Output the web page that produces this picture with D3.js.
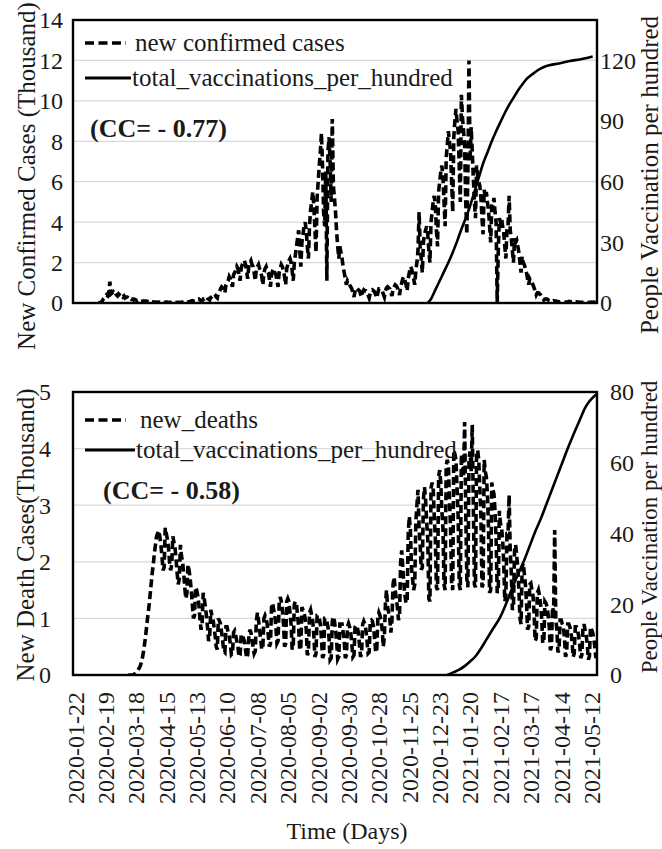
<!DOCTYPE html>
<html>
<head>
<meta charset="utf-8">
<script src="https://cdn.jsdelivr.net/npm/d3@7/dist/d3.min.js"></script>
<style>
  html, body { margin: 0; padding: 0; background: #fff; }
  svg { display: block; }
  text { font-family: "Liberation Serif", "Times New Roman", Times, serif; fill: #1a1a1a; }
</style>
</head>
<body>
<svg id="chart" width="662" height="849" font-family="Liberation Serif, Times New Roman, serif"></svg>
<script>
// ---- data -------------------------------------------------------------
// x-axis category labels (every 28 days)
const dateTicks = ["2020-01-22","2020-02-19","2020-03-18","2020-04-15","2020-05-13","2020-06-10",
  "2020-07-08","2020-08-05","2020-09-02","2020-09-30","2020-10-28","2020-11-25","2020-12-23",
  "2021-01-20","2021-02-17","2021-03-17","2021-04-14","2021-05-12"];

// Daily new confirmed cases (thousand), starting at casesStart
const casesStart = "2020-02-12";
const newCases = [
  0, 0, 0.02, 0.05, 0.1, 0.2, 0.25,
  0.3, 0.4, 0.35, 0.5, 1.05, 0.45, 0.5,
  0.55, 0.45, 0.5, 0.4, 0.35, 0.45, 0.4,
  0.35, 0.4, 0.3, 0.35, 0.25, 0.3, 0.3,
  0.25, 0.2, 0.25, 0.18, 0.2, 0.15, 0.18,
  0.15, 0.12, 0.15, 0.1, 0.12, 0.08, 0.1,
  0.1, 0.08, 0.1, 0.06, 0.08, 0.05, 0.07,
  0.06, 0.05, 0.06, 0.04, 0.05, 0.03, 0.05,
  0.04, 0.05, 0.03, 0.04, 0.03, 0.02, 0.04,
  0.03, 0.04, 0.02, 0.03, 0.03, 0.02, 0.03,
  0.03, 0.02, 0.03, 0.02, 0.03, 0.02, 0.03,
  0.03, 0.04, 0.03, 0.05, 0.04, 0.03, 0.05,
  0.06, 0.08, 0.1, 0.12, 0.1, 0.08, 0.12,
  0.15, 0.18, 0.2, 0.15, 0.12, 0.1, 0.2,
  0.2, 0.25, 0.3, 0.22, 0.2, 0.15, 0.28,
  0.3, 0.35, 0.45, 0.4, 0.3, 0.25, 0.5,
  0.55, 0.7, 0.8, 0.75, 0.6, 0.5, 0.9,
  1.0, 1.1, 1.3, 1.2, 1.0, 0.8, 1.4,
  1.5, 1.6, 1.8, 1.7, 1.4, 1.1, 1.7,
  1.9, 2.0, 2.1, 1.9, 1.6, 1.2, 1.8,
  2.0, 2.1, 1.9, 1.8, 1.5, 1.1, 1.7,
  1.8, 1.9, 1.7, 1.6, 1.3, 0.9, 1.5,
  1.7, 1.8, 1.6, 1.5, 1.2, 0.8, 1.4,
  1.6, 1.7, 1.5, 1.4, 1.1, 0.8, 1.5,
  1.7, 1.9, 1.8, 1.6, 1.3, 0.9, 1.7,
  1.9, 2.1, 2.2, 2.0, 1.6, 1.1, 2.0,
  2.4, 2.8, 3.2, 3.6, 2.6, 1.8, 3.0,
  3.4, 3.8, 4.0, 3.6, 2.8, 2.2, 3.8,
  4.6, 5.0, 5.5, 4.8, 3.6, 2.5, 5.2,
  6.0, 6.8, 7.5, 8.4, 6.8, 4.5, 3.8,
  6.5, 1.1, 7.5, 8.2, 7.0, 5.0, 9.1,
  5.8, 5.2, 4.5, 3.5, 2.8, 2.2, 2.8,
  2.5, 2.2, 1.8, 1.5, 1.2, 0.9, 1.1,
  1.0, 0.9, 0.8, 0.7, 0.5, 0.3, 0.6,
  0.75, 0.7, 0.65, 0.6, 0.45, 0.3, 0.55,
  0.65, 0.6, 0.6, 0.55, 0.4, 0.25, 0.5,
  0.6, 0.65, 0.6, 0.55, 0.4, 0.25, 0.5,
  0.7, 0.7, 0.65, 0.6, 0.45, 0.3, 0.6,
  0.75, 0.8, 0.75, 0.7, 0.5, 0.35, 0.7,
  0.8, 0.9, 0.85, 0.75, 0.6, 0.4, 0.8,
  1.0, 1.2, 1.3, 1.1, 0.9, 0.6, 1.2,
  1.5, 1.8, 1.7, 1.5, 1.2, 0.9, 1.6,
  2.0, 2.6, 4.5, 2.8, 2.2, 1.5, 3.0,
  3.4, 3.6, 3.8, 3.4, 2.6, 2.0, 4.0,
  4.5, 5.0, 5.3, 4.8, 3.6, 2.8, 5.5,
  6.0, 6.5, 6.8, 6.2, 5.0, 3.8, 7.2,
  7.8, 8.5, 8.0, 7.5, 6.0, 4.5, 8.2,
  9.0, 9.6, 9.0, 8.5, 6.8, 5.0, 10.3,
  9.2, 8.5, 7.8, 5.0, 3.4, 6.5, 12.0,
  7.0, 8.7, 7.5, 6.2, 5.0, 4.2, 6.8,
  6.3, 6.0, 5.8, 5.2, 4.2, 3.4, 5.6,
  5.2, 5.5, 5.0, 4.6, 3.8, 3.0, 4.8,
  4.8, 5.2, 4.5, 4.0, 0.0, 2.6, 4.2,
  4.0, 4.2, 3.8, 3.5, 2.8, 2.2, 3.6,
  3.8, 5.3, 3.6, 3.2, 2.6, 2.0, 3.2,
  3.0, 3.1, 2.8, 2.5, 2.0, 1.5, 2.3,
  2.0, 1.9, 1.7, 1.5, 1.2, 0.9, 1.2,
  1.1, 1.0, 0.9, 0.75, 0.6, 0.4, 0.5,
  0.5, 0.45, 0.4, 0.3, 0.25, 0.15, 0.2,
  0.2, 0.2, 0.15, 0.12, 0.1, 0.06, 0.1,
  0.12, 0.1, 0.1, 0.08, 0.07, 0.05, 0.06,
  0.1, 0.08, 0.08, 0.06, 0.05, 0.03, 0.05,
  0.08, 0.07, 0.06, 0.05, 0.04, 0.03, 0.05,
  0.06, 0.05, 0.05, 0.04, 0.03, 0.02, 0.04,
  0.05, 0.04, 0.04, 0.03, 0.03, 0.02, 0.03,
  0.04, 0.03, 0.04, 0.03, 0.02, 0.02
];

// Total vaccinations per hundred shown with the confirmed cases
const vaxTopDates = ["2020-12-12","2020-12-15","2020-12-19","2020-12-23","2020-12-27","2020-12-31",
  "2021-01-04","2021-01-08","2021-01-12","2021-01-16","2021-01-20","2021-01-24","2021-01-28",
  "2021-02-01","2021-02-05","2021-02-09","2021-02-13","2021-02-17","2021-02-21","2021-02-25",
  "2021-03-01","2021-03-05","2021-03-09","2021-03-13","2021-03-18","2021-03-23","2021-03-28",
  "2021-04-02","2021-04-12","2021-04-22","2021-05-02","2021-05-13"];
const vaxTop = [0, 2, 6.5, 11, 15.5, 20, 25, 30.5, 36.5, 42, 48, 55, 62, 69, 74.5, 80, 85, 89.5,
  94, 98, 101.5, 105, 108, 110.8, 113, 115, 116.5, 117.5, 118.5, 119.7, 120.6, 122];

// Daily new deaths (thousand), starting at deathsStart
const deathsStart = "2020-03-11";
const newDeaths = [
  0, 0, 0, 0, 0, 0.01, 0.02,
  0.04, 0.06, 0.09, 0.12, 0.16, 0.22, 0.3,
  0.42, 0.55, 0.7, 0.88, 1.05, 1.2, 1.4,
  1.6, 1.8, 1.95, 2.15, 2.3, 2.45, 2.5,
  2.55, 2.45, 2.3, 2.1, 1.85, 1.9, 2.6,
  2.5, 2.4, 2.25, 2.0, 1.85, 1.95, 2.45,
  2.35, 2.25, 2.05, 1.8, 1.6, 1.7, 2.3,
  2.1, 2.0, 1.8, 1.55, 1.35, 1.45, 1.95,
  1.85, 1.7, 1.5, 1.25, 1.0, 1.05, 1.55,
  1.5, 1.4, 1.25, 1.0, 0.8, 0.9, 1.45,
  1.35, 1.2, 1.05, 0.85, 0.6, 0.7, 1.15,
  1.05, 1.0, 0.85, 0.7, 0.5, 0.45, 1.0,
  0.95, 0.9, 0.75, 0.6, 0.42, 0.4, 0.85,
  0.85, 0.75, 0.7, 0.55, 0.36, 0.38, 0.75,
  0.78, 0.7, 0.6, 0.5, 0.32, 0.35, 0.7,
  0.72, 0.65, 0.6, 0.45, 0.3, 0.35, 0.65,
  0.8, 0.75, 0.62, 0.5, 0.38, 0.42, 0.95,
  1.1, 0.97, 0.8, 0.62, 0.45, 0.5, 1.0,
  1.05, 1.0, 0.9, 0.7, 0.5, 0.55, 1.2,
  1.27, 1.15, 1.05, 0.85, 0.56, 0.6, 1.25,
  1.38, 1.3, 1.15, 0.9, 0.5, 0.55, 1.3,
  1.35, 1.3, 1.1, 0.9, 0.45, 0.5, 1.25,
  1.3, 1.25, 1.05, 0.85, 0.44, 0.5, 1.2,
  1.15, 1.1, 1.0, 0.8, 0.35, 0.4, 1.1,
  1.15, 1.05, 0.95, 0.7, 0.32, 0.38, 1.05,
  1.05, 1.0, 0.9, 0.65, 0.3, 0.35, 1.0,
  1.0, 0.95, 0.85, 0.65, 0.27, 0.3, 0.95,
  1.03, 0.95, 0.8, 0.6, 0.28, 0.32, 0.9,
  0.9, 0.9, 0.75, 0.6, 0.3, 0.35, 0.85,
  0.91, 0.85, 0.75, 0.55, 0.32, 0.35, 0.85,
  0.88, 0.85, 0.75, 0.55, 0.32, 0.38, 0.9,
  0.95, 0.9, 0.8, 0.6, 0.38, 0.4, 0.95,
  0.97, 0.95, 0.85, 0.65, 0.4, 0.45, 1.0,
  1.1, 1.05, 0.95, 0.8, 0.5, 0.67, 1.27,
  1.5, 1.2, 1.1, 1.0, 0.75, 0.97, 1.6,
  1.73, 1.5, 1.35, 1.2, 0.97, 1.05, 2.0,
  2.2, 1.9, 1.6, 1.4, 1.27, 1.3, 2.5,
  2.8, 2.56, 1.9, 1.7, 1.5, 1.6, 2.7,
  3.0, 3.27, 2.6, 2.3, 1.86, 1.9, 3.1,
  3.32, 3.1, 2.7, 2.4, 1.35, 1.3, 3.3,
  3.4, 3.3, 2.8, 2.4, 1.55, 1.5, 3.5,
  3.62, 3.4, 2.9, 2.6, 1.6, 1.5, 3.7,
  3.8, 3.7, 3.1, 2.6, 1.6, 1.5, 3.97,
  3.9, 3.8, 3.3, 2.8, 1.6, 1.5, 3.9,
  3.7, 3.5, 4.47, 2.9, 1.7, 1.55, 3.8,
  3.95, 3.6, 4.42, 3.0, 1.6, 1.55, 3.9,
  3.97, 3.8, 3.3, 2.8, 1.55, 1.6, 3.8,
  3.6, 3.5, 3.2, 2.6, 1.45, 1.5, 3.4,
  3.27, 3.2, 2.9, 2.4, 1.45, 1.5, 2.9,
  2.68, 2.6, 2.4, 2.0, 1.3, 1.4, 2.5,
  2.5, 3.18, 2.2, 1.8, 1.15, 1.2, 2.2,
  2.3, 2.1, 1.9, 1.5, 1.0, 0.9, 1.9,
  1.97, 1.8, 1.6, 1.3, 0.8, 0.85, 1.6,
  1.62, 1.5, 1.4, 1.1, 0.6, 0.65, 1.45,
  1.5, 1.4, 1.25, 1.0, 0.56, 0.6, 1.3,
  1.27, 1.2, 1.05, 0.85, 0.44, 0.5, 1.2,
  1.1, 2.56, 1.0, 0.8, 0.4, 0.45, 0.97,
  0.97, 0.9, 0.85, 0.65, 0.32, 0.4, 0.9,
  0.9, 0.85, 0.75, 0.6, 0.32, 0.38, 0.85,
  0.85, 0.8, 0.7, 0.55, 0.3, 0.35, 0.8,
  0.9, 0.8, 0.7, 0.55, 0.27, 0.33, 0.85,
  0.8, 0.75, 0.65, 0.5, 0.3, 0.35
];

// Total vaccinations per hundred shown with the deaths
const vaxBottomDates = ["2020-12-30","2021-01-05","2021-01-10","2021-01-15","2021-01-20","2021-01-25",
  "2021-01-29","2021-02-04","2021-02-09","2021-02-17","2021-02-24","2021-03-01","2021-03-06",
  "2021-03-11","2021-03-16","2021-03-21","2021-03-26","2021-03-31","2021-04-05","2021-04-10",
  "2021-04-15","2021-04-20","2021-04-26","2021-05-01","2021-05-06","2021-05-17"];
const vaxBottom = [0, 0.8, 1.5, 2.5, 3.8, 5.3, 7, 10, 12.5, 16.5, 21.5, 25.5, 29, 32.5, 36.5,
  40.5, 44, 48, 52, 56, 60, 64, 68.5, 72, 75.5, 79.5];

// ---- chart ------------------------------------------------------------
const parse = d3.utcParse("%Y-%m-%d");
const dayMs = 864e5;
const svg = d3.select("#chart");
const TICK_FONT = 24;
const LABEL_FONT = 25;

const x = d3.scaleUtc()
  .domain([parse("2020-01-20"), parse("2021-05-17")])
  .range([73, 597]);

function daily(start, values) {
  const t0 = parse(start).getTime();
  return values.map((v, i) => ({ date: new Date(t0 + i * dayMs), v }));
}
function paired(dates, values) {
  return dates.map((d, i) => ({ date: parse(d), v: values[i] }));
}

function panel(cfg) {
  const g = svg.append("g");
  const y = d3.scaleLinear().domain([0, cfg.yMax]).range([cfg.bottom, cfg.top]);
  const yR = d3.scaleLinear().domain([0, cfg.yRMax]).range([cfg.bottom, cfg.top]);
  const [x0, x1] = x.range();

  // horizontal gridlines
  g.append("g").selectAll("line")
    .data(y.ticks(cfg.yMax / cfg.yStep).filter(t => t > 0 && t < cfg.yMax))
    .join("line")
    .attr("x1", x0).attr("x2", x1)
    .attr("y1", d => y(d)).attr("y2", d => y(d))
    .attr("stroke", "#d9d9d9").attr("stroke-width", 1.2);

  // left tick labels
  g.append("g").selectAll("text")
    .data(d3.range(0, cfg.yMax + 1e-9, cfg.yStep))
    .join("text")
    .attr("x", cfg.leftLabelX).attr("y", d => y(d))
    .attr("dy", "0.35em").attr("text-anchor", "end")
    .attr("font-size", TICK_FONT)
    .text(d => d);

  // right tick labels
  g.append("g").selectAll("text")
    .data(d3.range(0, cfg.yRMax + 1e-9, cfg.yRStep).filter(d => yR(d) >= cfg.top - 1))
    .join("text")
    .attr("x", cfg.rightLabelX).attr("y", d => yR(d))
    .attr("dy", "0.35em").attr("text-anchor", "start")
    .attr("font-size", TICK_FONT)
    .text(d => d);

  // clip for data lines
  const clipId = "clip-" + cfg.id;
  svg.append("clipPath").attr("id", clipId)
    .append("rect").attr("x", x0).attr("y", cfg.top)
    .attr("width", x1 - x0).attr("height", cfg.bottom - cfg.top);

  const dataG = g.append("g").attr("clip-path", `url(#${clipId})`);

  // legend
  const lg = g.append("g");
  lg.append("line")
    .attr("x1", 85).attr("x2", 126).attr("y1", cfg.leg1Y).attr("y2", cfg.leg1Y)
    .attr("stroke", "#000").attr("stroke-width", 3.5).attr("stroke-dasharray", "9,4.5");
  lg.append("text").attr("x", cfg.leg1TextX).attr("y", cfg.leg1Y).attr("dy", "0.33em")
    .attr("font-size", LABEL_FONT).text(cfg.seriesName);
  lg.append("line")
    .attr("x1", 85).attr("x2", cfg.leg2LineEnd).attr("y1", cfg.leg2Y).attr("y2", cfg.leg2Y)
    .attr("stroke", "#000").attr("stroke-width", 2.8);
  lg.append("text").attr("x", cfg.leg2LineEnd + 1).attr("y", cfg.leg2Y).attr("dy", "0.33em")
    .attr("font-size", LABEL_FONT).text("total_vaccinations_per_hundred");

  // correlation note
  g.append("text").attr("x", cfg.ccX).attr("y", cfg.ccY).attr("dy", "0.35em")
    .attr("font-size", 26).attr("font-weight", "bold").attr("fill", "#111")
    .text(cfg.cc);

  // dashed daily series
  dataG.append("path")
    .datum(cfg.series)
    .attr("fill", "none").attr("stroke", "#000")
    .attr("stroke-width", 3.6).attr("stroke-dasharray", "8,4")
    .attr("d", d3.line().x(d => x(d.date)).y(d => y(d.v)));

  // vaccination line (right axis)
  dataG.append("path")
    .datum(cfg.vax)
    .attr("fill", "none").attr("stroke", "#000").attr("stroke-width", 2.6)
    .attr("stroke-linejoin", "round")
    .attr("d", d3.line().x(d => x(d.date)).y(d => yR(d.v)).curve(d3.curveMonotoneX));

  // frame
  g.append("rect")
    .attr("x", x0).attr("y", cfg.top)
    .attr("width", x1 - x0).attr("height", cfg.bottom - cfg.top)
    .attr("fill", "none").attr("stroke", "#000").attr("stroke-width", 2.4);

  // axis titles
  g.append("text")
    .attr("transform", `translate(${cfg.leftTitleX},${cfg.leftTitleY}) rotate(-90)`)
    .attr("text-anchor", "middle").attr("dy", "0.35em")
    .attr("font-size", LABEL_FONT).text(cfg.leftTitle);
  g.append("text")
    .attr("transform", `translate(649,${cfg.rightTitleY}) rotate(-90)`)
    .attr("text-anchor", "middle").attr("dy", "0.35em")
    .attr("font-size", cfg.rightTitleFont).text("People Vaccination  per hundred");

  return g;
}

panel({
  id: "cases", top: 20, bottom: 303, yMax: 14, yStep: 2, yRMax: 140, yRStep: 30,
  leftLabelX: 63, rightLabelX: 600,
  leg1Y: 43, leg1TextX: 135, leg2Y: 78, leg2LineEnd: 131,
  seriesName: "new confirmed cases",
  ccX: 90, ccY: 128, cc: "(CC= - 0.77)",
  series: daily(casesStart, newCases),
  vax: paired(vaxTopDates, vaxTop),
  leftTitle: "New Confirmed Cases (Thousand)", leftTitleX: 26, leftTitleY: 176,
  rightTitleY: 175, rightTitleFont: 25
});

const bottom = panel({
  id: "deaths", top: 392, bottom: 675, yMax: 5, yStep: 1, yRMax: 80, yRStep: 20,
  leftLabelX: 51, rightLabelX: 610,
  leg1Y: 420, leg1TextX: 140, leg2Y: 450, leg2LineEnd: 135,
  seriesName: "new_deaths",
  ccX: 103, ccY: 490, cc: "(CC= - 0.58)",
  series: daily(deathsStart, newDeaths),
  vax: paired(vaxBottomDates, vaxBottom),
  leftTitle: "New Death Cases(Thousand)", leftTitleX: 25, leftTitleY: 535,
  rightTitleY: 527, rightTitleFont: 23
});

// x-axis date labels under the lower panel
bottom.append("g").selectAll("text")
  .data(dateTicks)
  .join("text")
  .attr("transform", d => `translate(${x(parse(d))},692) rotate(-90)`)
  .attr("text-anchor", "end").attr("dy", "0.35em")
  .attr("font-size", TICK_FONT)
  .text(d => d);

svg.append("text")
  .attr("x", 347).attr("y", 831).attr("dy", "0.35em")
  .attr("text-anchor", "middle").attr("font-size", 24)
  .text("Time (Days)");
</script>
</body>
</html>
